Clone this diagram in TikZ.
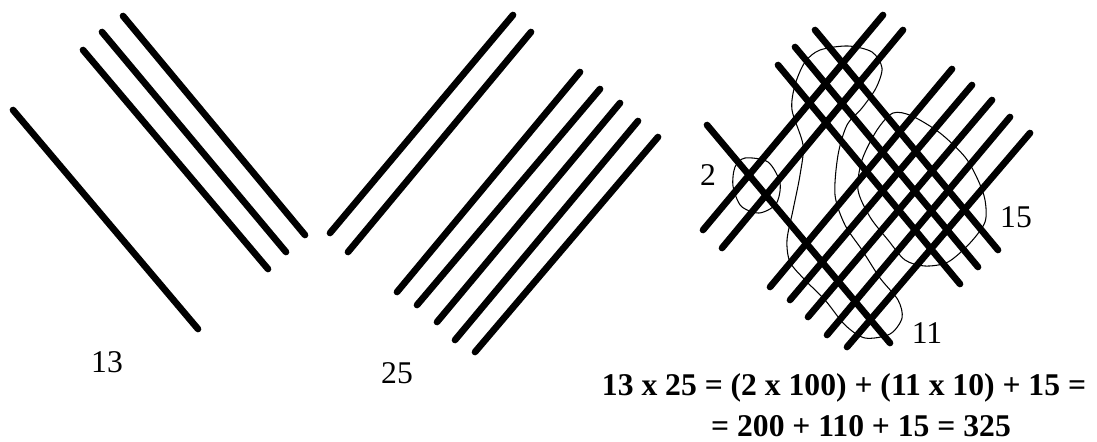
\documentclass[tikz,border=0pt]{standalone}
\usepackage{fontspec}
\setmainfont{Liberation Serif}

\begin{document}
\begin{tikzpicture}[
    x=0.02cm,y=-0.02cm,
    stick/.style={line width=3.8pt,line cap=round},
    ring/.style={line width=0.6pt},
    num/.style={font=\fontsize{18}{20}\selectfont},
    sum/.style={font=\fontsize{18}{20}\selectfont\bfseries,anchor=base,inner sep=0pt},
  ]
    \useasboundingbox (0,0) rectangle (1097,441);

    % first factor 13: one stick, then three
    \draw[stick] (13,110) -- (198,329);
    \draw[stick] (83,50) -- (268,269);
    \draw[stick] (102,32) -- (286,252);
    \draw[stick] (123,16) -- (305,235);
    \node[num] (left) at (107,362) {13};

    % second factor 25: two sticks, then five
    \draw[stick] (330,233) -- (513,15);
    \draw[stick] (348,252) -- (531,32);
    \draw[stick] (397,292) -- (580,72);
    \draw[stick] (417,305) -- (600,89);
    \draw[stick] (437,322) -- (620,103);
    \draw[stick] (455,340) -- (638,121);
    \draw[stick] (475,352) -- (658,137);
    \node[num] (right) at (397,373) {25};

    % groups of crossings
    \draw[ring] plot[smooth cycle] coordinates {(745,158) (768,162) (780,183)
      (776,204) (759,213) (741,206) (733,186) (735,167)};
    \draw[ring] plot[smooth cycle] coordinates {(820,50) (848,46) (872,52)
      (882,68) (876,88) (862,108) (847,125) (838,155) (835,195) (845,225)
      (862,250) (880,278) (898,300) (902,318) (890,334) (865,338) (845,325)
      (825,300) (805,280) (790,262) (787,240) (793,210) (800,175) (803,145)
      (792,110) (795,85) (805,62)};
    \draw[ring] plot[smooth cycle] coordinates {(893,113) (912,116) (940,133)
      (965,157) (978,180) (985,200) (985,222) (970,243) (948,262) (925,266)
      (905,260) (888,240) (870,217) (858,190) (862,160) (877,130)};

    % product: both factors crossed
    \draw[stick] (703,230) -- (883,15);
    \draw[stick] (722,248) -- (903,30);
    \draw[stick] (770,287) -- (952,69);
    \draw[stick] (790,300) -- (972,85);
    \draw[stick] (808,317) -- (992,100);
    \draw[stick] (827,335) -- (1010,117);
    \draw[stick] (847,347) -- (1030,133);
    \draw[stick] (707,125) -- (890,343);
    \draw[stick] (778,65) -- (960,284);
    \draw[stick] (795,47) -- (978,267);
    \draw[stick] (815,30) -- (998,250);
    \node[num] (hundreds) at (708,175) {2};
    \node[num] (units) at (1016,217) {15};
    \node[num] (tens) at (927,333) {11};

    \node[sum] (eqtop) at (844,395) {13 x 25 = (2 x 100) + (11 x 10) + 15 =};
    \node[sum] (eqbot) at (861,436) {= 200 + 110 + 15 = 325};
  \end{tikzpicture}
\end{document}
